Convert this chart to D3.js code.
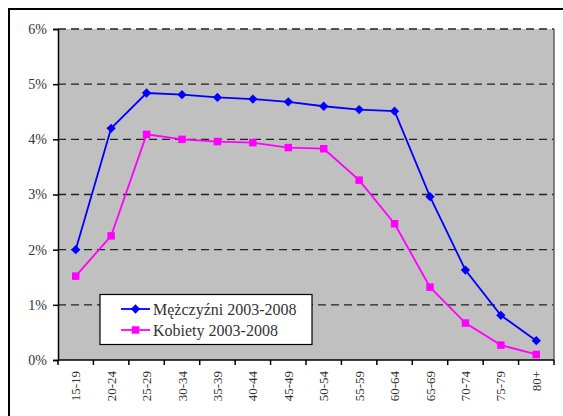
<!DOCTYPE html>
<html>
<head>
<meta charset="utf-8">
<script src="https://cdn.jsdelivr.net/npm/d3@7"></script>
<style>
  html, body { margin: 0; padding: 0; background: #fff; }
  svg { display: block; }
  svg text { font-family: "Liberation Serif", "DejaVu Serif", serif; }
</style>
</head>
<body>
<svg id="chart" width="563" height="416"></svg>
<script>
// Age groups on the horizontal axis
const ageGroups = ["15-19","20-24","25-29","30-34","35-39","40-44","45-49","50-54","55-59","60-64","65-69","70-74","75-79","80+"];
// Share (%) per age group
const men   = [2.00, 4.20, 4.84, 4.81, 4.76, 4.73, 4.68, 4.60, 4.54, 4.51, 2.96, 1.63, 0.81, 0.35];
const women = [1.52, 2.25, 4.09, 4.00, 3.96, 3.94, 3.85, 3.83, 3.26, 2.47, 1.32, 0.67, 0.27, 0.10];
const yTicks = [0, 1, 2, 3, 4, 5, 6];
const seriesNames = ["Mężczyźni 2003-2008", "Kobiety 2003-2008"];

const svg = d3.select("#chart");
const textColor = "#333";

// Outer frame
svg.append("rect")
  .attr("x", 9).attr("y", 9).attr("width", 620).attr("height", 460)
  .attr("fill", "none").attr("stroke", "#000").attr("stroke-width", 2);

const plot = { left: 58, top: 29, right: 554, bottom: 360 };

const x = d3.scaleBand().domain(ageGroups).range([plot.left, plot.right]).padding(0);
const y = d3.scaleLinear().domain([0, 6]).range([plot.bottom, plot.top]);

// Plot background
svg.append("rect")
  .attr("x", plot.left).attr("y", plot.top)
  .attr("width", plot.right - plot.left).attr("height", plot.bottom - plot.top)
  .attr("fill", "#c0c0c0");

// Dashed gridlines
svg.append("g").selectAll("line")
  .data(yTicks.filter(d => d > 0))
  .join("line")
  .attr("x1", plot.left).attr("x2", plot.right)
  .attr("y1", d => y(d)).attr("y2", d => y(d))
  .attr("stroke", "#222").attr("stroke-width", 1.3)
  .attr("stroke-dasharray", "8,5");

// Right border of the plot area
svg.append("line")
  .attr("x1", plot.right).attr("x2", plot.right)
  .attr("y1", plot.top).attr("y2", plot.bottom)
  .attr("stroke", "#606060").attr("stroke-width", 1.5);

// Y axis
const yAxis = d3.axisLeft(y).tickValues(yTicks).tickFormat(d => d + "%").tickSize(5).tickPadding(6);
const gy = svg.append("g").attr("transform", `translate(${plot.left},0)`).call(yAxis);
gy.attr("font-family", null).attr("font-size", null);
gy.select(".domain").attr("stroke", "#000").attr("stroke-width", 1.5);
gy.selectAll(".tick line").attr("stroke", "#000").attr("stroke-width", 1.5);
gy.selectAll(".tick text")
  .style("font-size", "14px").attr("fill", textColor);

// X axis: ticks at the category boundaries
const gx = svg.append("g").attr("transform", `translate(0,${plot.bottom})`);
gx.append("line")
  .attr("x1", plot.left).attr("x2", plot.right)
  .attr("stroke", "#000").attr("stroke-width", 1.5);
const boundaries = ageGroups.map(d => x(d)).concat([x(ageGroups[ageGroups.length - 1]) + x.bandwidth()]);
gx.selectAll("line.tk").data(boundaries).join("line").attr("class", "tk")
  .attr("x1", d => d).attr("x2", d => d).attr("y1", 0).attr("y2", 5)
  .attr("stroke", "#000").attr("stroke-width", 1.5);
gx.selectAll("text").data(ageGroups).join("text")
  .attr("transform", d => `translate(${x(d) + x.bandwidth() / 2 + 4.5},11) rotate(-90)`)
  .attr("text-anchor", "end")
  .style("font-size", "13px").attr("fill", textColor)
  .text(d => d);

const cx = d => x(d) + x.bandwidth() / 2;

// Series lines and markers
const line = d3.line().x(d => cx(d.age)).y(d => y(d.v));
const menData = ageGroups.map((a, i) => ({ age: a, v: men[i] }));
const womenData = ageGroups.map((a, i) => ({ age: a, v: women[i] }));

svg.append("path").datum(womenData).attr("d", line)
  .attr("fill", "none").attr("stroke", "#ff00ff").attr("stroke-width", 1.8);
svg.append("path").datum(menData).attr("d", line)
  .attr("fill", "none").attr("stroke", "#0000ff").attr("stroke-width", 1.8);

const diamond = d3.symbol().type(d3.symbolDiamond2).size(55);
const square = d3.symbol().type(d3.symbolSquare).size(56);

svg.append("g").selectAll("path").data(womenData).join("path")
  .attr("transform", d => `translate(${cx(d.age)},${y(d.v)})`)
  .attr("d", square).attr("fill", "#ff00ff");
svg.append("g").selectAll("path").data(menData).join("path")
  .attr("transform", d => `translate(${cx(d.age)},${y(d.v)})`)
  .attr("d", diamond).attr("fill", "#0000ff");

// Legend
const lg = svg.append("g");
lg.append("rect")
  .attr("x", 100).attr("y", 294.5).attr("width", 212).attr("height", 50)
  .attr("fill", "#fff").attr("stroke", "#000").attr("stroke-width", 1.2);
const legendItems = [
  { name: seriesNames[0], color: "#0000ff", sym: diamond },
  { name: seriesNames[1], color: "#ff00ff", sym: square }
];
legendItems.forEach((it, i) => {
  const ly = 309 + i * 21;
  lg.append("line").attr("x1", 121).attr("x2", 150).attr("y1", ly).attr("y2", ly)
    .attr("stroke", it.color).attr("stroke-width", 1.8);
  lg.append("path").attr("transform", `translate(135.5,${ly})`).attr("d", it.sym).attr("fill", it.color);
  lg.append("text").attr("x", 153).attr("y", ly + 5.5)
    .style("font-size", "16px").attr("fill", textColor)
    .text(it.name);
});
</script>
</body>
</html>
